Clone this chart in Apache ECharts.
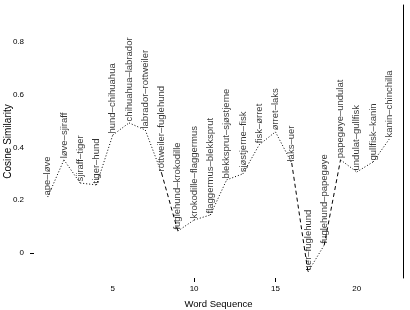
<!DOCTYPE html>
<html>
<head>
<meta charset="utf-8">
<script src="https://cdn.jsdelivr.net/npm/echarts@6/dist/echarts.min.js"></script>
<style>html,body{margin:0;padding:0;background:#fff}#c{width:410px;height:310px}</style>
</head>
<body>
<div id="c"></div>
<script>
const pairs = ['ape–løve','løve–sjiraff','sjiraff–tiger','tiger–hund','hund–chihuahua','chihuahua–labrador','labrador–rottweiler','rottweiler–fuglehund','fuglehund–krokodille','krokodille–flaggermus','flaggermus–blekksprut','blekksprut–sjøstjerne','sjøstjerne–fisk','fisk–ørret','ørret–laks','laks–uer','uer–fuglehund','fuglehund–papegøye','papegøye–undulat','undulat–gullfisk','gullfisk–kanin','kanin–chinchilla'];
const similarity = [0.212,0.353,0.265,0.258,0.447,0.493,0.466,0.303,0.083,0.125,0.144,0.277,0.300,0.410,0.459,0.341,-0.072,0.030,0.353,0.307,0.345,0.432];
const xTickLabels = [5,10,15,20];
const yTickLabels = [0,0.2,0.4,0.6,0.8];

const FONT = 'Liberation Sans, Arial, sans-serif';
const points = similarity.map((v,i)=>({name: pairs[i], value:[i+1, v]}));

const series = [];
for (let i = 0; i < points.length - 1; i++) {
  const big = Math.abs(similarity[i+1] - similarity[i]) > 0.2;
  series.push({
    type:'line', silent:true, symbol:'none',
    data:[points[i].value, points[i+1].value],
    lineStyle:{color:'#000', width:1, type: big ? [4,3] : [1,2]},
    z:2
  });
}
series.push({
  type:'scatter', data: points, symbolSize:1,
  itemStyle:{color:'rgba(0,0,0,0)'},
  label:{show:true, formatter:'{b}', position:'top', distance:1, rotate:90,
    align:'left', verticalAlign:'middle', fontFamily:FONT, fontSize:9.5, color:'#000'},
  z:3
});

const chart = echarts.init(document.getElementById('c'), null, {renderer:'canvas'});
chart.setOption({
  animation:false,
  grid:{left:34, right:7, top:5, bottom:32, containLabel:false, outerBoundsMode:'none'},
  xAxis:{type:'value', position:'bottom', min:0.16, max:22.84,
    name:'Word Sequence', nameLocation:'middle', nameGap:21, nameMoveOverlap:false,
    nameTextStyle:{fontFamily:FONT, fontSize:9.5, color:'#000'},
    axisLine:{show:false, onZero:false}, splitLine:{show:false},
    axisTick:{show:true, length:4, customValues:[10,15], lineStyle:{color:'#000'}},
    axisLabel:{customValues:xTickLabels, fontFamily:FONT, fontSize:8, color:'#000', margin:7}
  },
  yAxis:[{type:'value', position:'left', min:-0.095, max:0.94,
    name:'Cosine Similarity', nameLocation:'middle', nameGap:21, nameRotate:90, nameMoveOverlap:false,
    nameTextStyle:{fontFamily:FONT, fontSize:10, color:'#000'},
    axisLine:{show:false, onZero:false}, splitLine:{show:false},
    axisTick:{show:true, length:4, customValues:[0], lineStyle:{color:'#000'}},
    axisLabel:{customValues:yTickLabels, fontFamily:FONT, fontSize:8, color:'#000', margin:10}
  },{type:'value', min:-0.095, max:0.94, position:'right',
    axisLine:{show:true, onZero:false, lineStyle:{color:'#000', width:1}},
    axisTick:{show:false}, axisLabel:{show:false}, splitLine:{show:false}
  }],
  series: series
});
</script>
</body>
</html>
